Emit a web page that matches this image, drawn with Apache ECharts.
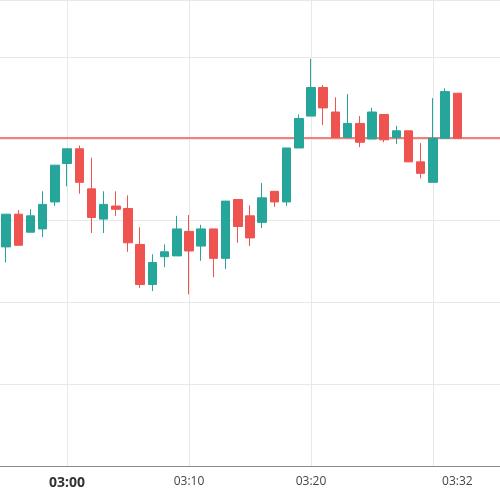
<!DOCTYPE html>
<html>
<head>
<meta charset="utf-8">
<script src="https://cdn.jsdelivr.net/npm/echarts@6/dist/echarts.min.js"></script>
<style>html,body{margin:0;padding:0;background:#fff}#chart{width:500px;height:500px}</style>
</head>
<body>
<div id="chart"></div>
<script>
// minute categories 02:55 .. 03:35 (last three are empty space)
var times = [];
for (var m = 55; m <= 95; m++) {
  var h = m < 60 ? '02' : '03';
  var mm = m % 60;
  times.push(h + ':' + (mm < 10 ? '0' + mm : mm));
}
var shownLabels = ['03:00', '03:10', '03:20', '03:32'];
var gridTimes = ['03:00', '03:10', '03:20', '03:30'];

var opens  = [26.8,30.8,28.6,29.0,32.3,37.0,38.8,33.9,30.2,31.8,31.5,27.1,22.2,25.6,25.7,28.7,26.9,29.0,25.4,32.6,30.6,29.8,33.6,32.3,38.9,42.8,46.3,43.3,40.2,41.9,40.0,43.0,40.2,41.0,37.2,34.7,40.1,45.6];
var closes = [30.8,27.0,30.6,32.0,36.8,38.8,34.7,30.4,32.0,31.4,27.3,22.2,24.9,26.2,29.0,26.3,29.0,25.4,32.4,29.3,27.9,32.8,32.3,38.9,42.5,46.3,43.8,40.2,41.9,39.6,43.3,39.9,41.0,37.2,35.8,40.1,45.8,40.1];
var lows   = [24.9,27.0,28.6,28.0,31.8,34.2,33.3,28.5,28.5,30.6,26.2,21.8,21.4,24.3,25.7,21.0,25.1,23.1,24.1,27.3,26.9,29.1,31.7,31.8,38.9,42.8,41.7,40.2,40.1,39.0,40.0,39.6,39.4,37.2,35.2,34.7,40.1,40.1];
var highs  = [30.8,31.3,31.4,33.6,36.8,38.8,39.2,37.7,33.6,33.6,33.1,29.2,25.9,27.1,30.6,30.7,29.5,29.0,32.4,32.6,31.9,34.6,33.6,38.9,43.0,49.8,46.6,45.1,45.5,42.8,43.8,43.0,41.6,41.0,39.5,45.0,46.2,45.6];
var lastPrice = 40.1;

var candles = opens.map(function (o, i) { return [o, closes[i], lows[i], highs[i]]; });

var vLines = gridTimes.map(function (t) {
  return { xAxis: t, lineStyle: { color: '#e8e8e8', width: 1, type: 'solid' } };
});

var chart = echarts.init(document.getElementById('chart'));
chart.setOption({
  animation: false,
  grid: { left: 0, width: 504, top: 0, bottom: 34, containLabel: false },
  xAxis: {
    type: 'category',
    data: times,
    boundaryGap: true,
    axisLine: { lineStyle: { color: '#8a8a8a' } },
    axisTick: {
      alignWithLabel: true, length: 5, lineStyle: { color: '#cccccc' },
      interval: function (i, v) { return gridTimes.indexOf(v) >= 0 || shownLabels.indexOf(v) >= 0; }
    },
    axisLabel: {
      interval: function (i, v) { return shownLabels.indexOf(v) >= 0; },
      color: '#444', fontFamily: 'Open Sans', fontSize: 12, margin: 10,
      formatter: function (v) { return v === '03:00' ? '{b|' + v + '}' : v; },
      rich: { b: { fontWeight: 'bold', fontSize: 14, color: '#333', fontFamily: 'Open Sans' } }
    },
    splitLine: { show: false }
  },
  yAxis: {
    type: 'value', min: 0, max: 57, interval: 10,
    axisLabel: { show: false }, axisLine: { show: false }, axisTick: { show: false },
    splitLine: { lineStyle: { color: '#e8e8e8' } }
  },
  series: [{
    type: 'candlestick',
    data: candles,
    barWidth: '74%',
    z: 3,
    itemStyle: { color: '#26a69a', color0: '#ef5350', borderColor: '#26a69a', borderColor0: '#ef5350' },
    markLine: {
      silent: true, symbol: 'none', label: { show: false }, z: 1,
      data: vLines.concat([{ yAxis: lastPrice, lineStyle: { color: '#ef5350', width: 1.5, type: 'solid' } }])
    }
  }]
});
</script>
</body>
</html>
